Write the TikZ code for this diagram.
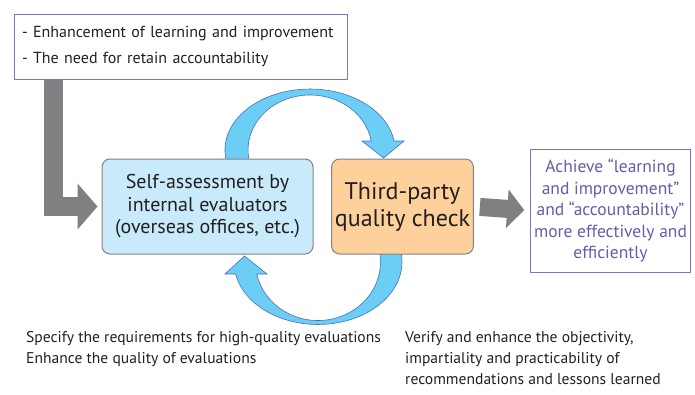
\documentclass[tikz,border=0pt]{standalone}
\usepackage{fontspec}
\setmainfont{PT Sans}
\usetikzlibrary{arrows.meta}

\definecolor{frameviolet}{RGB}{130,115,190}
\definecolor{textviolet}{RGB}{105,90,170}
\definecolor{arrowgray}{RGB}{128,128,130}
\definecolor{selfblue}{RGB}{200,234,250}
\definecolor{thirdorange}{RGB}{253,208,156}
\definecolor{loopblue}{RGB}{108,206,245}
\definecolor{loopedge}{RGB}{70,110,190}
\definecolor{boxedge}{RGB}{130,130,130}
\definecolor{inktext}{RGB}{35,31,32}

\tikzset{
  framebox/.style={draw=frameviolet, line width=1pt},
  stagebox/.style={draw=boxedge, line width=1pt, rounded corners=8pt, align=center, text=inktext},
  grayarrow/.style={arrowgray, line join=miter},
  loopband/.style={fill=loopblue, draw=loopedge, line width=0.6pt},
  note/.style={anchor=north west, inner sep=0pt, align=left, text=inktext, font=\fontsize{15.6}{21}\selectfont}
}

\begin{document}
\begin{tikzpicture}[x=1pt,y=-1pt]
\useasboundingbox (0,0) rectangle (695,394);

% aims box
\node[framebox, minimum width=333pt, minimum height=65pt, inner sep=8pt, text width=317pt, align=left, text=inktext, font=\fontsize{16}{26}\selectfont] (aims) at (180.5,46.5) {- Enhancement of learning and improvement\\- The need for retain accountability};

% loops between the two stages
\filldraw[loopband] (227.9,165.8) arc[start angle=165, end angle=351.5, x radius=85, y radius=61] -- (404,141) -- (383.5,158) -- (362,141) -- (371.2,141) arc[start angle=350.6, end angle=165, x radius=62, y radius=55] -- cycle;
\filldraw[loopband] (399.1,245.8) arc[start angle=-15, end angle=168.93, x radius=84, y radius=62.5] -- (225,274) -- (244.5,256) -- (267,274) -- (256.8,274) arc[start angle=168.16, end angle=-15, x radius=62.5, y radius=58.5] -- cycle;

% stages
\node[stagebox, fill=selfblue, minimum width=211pt, minimum height=95pt, font=\fontsize{20}{22.5}\selectfont] (self) at (207.5,206.5) {Self-assessment by\\internal evaluators\\(overseas offices, etc.)};
\node[stagebox, fill=thirdorange, minimum width=137pt, minimum height=95pt, font=\fontsize{24}{27}\selectfont] (third) at (402.5,206.5) {Third-party\\quality check};

% result
\node[framebox, minimum width=159pt, minimum height=123pt, align=center, text=textviolet, font=\fontsize{17.5}{21.5}\selectfont] (result) at (610.5,210.5) {Achieve “learning\\and improvement”\\and “accountability”\\more effectively and\\efficiently};

% gray arrows
\draw[grayarrow, line width=19pt, -{Triangle[length=20pt, width=45pt]}, shorten >=4pt] (aims.south -| 53,0) |- (self.west);
\draw[grayarrow, line width=18pt, -{Triangle[length=17pt, width=38pt]}, shorten <=6pt, shorten >=6pt] (third.east) -- (result.west);

% notes
\node[note] (selfnote) at (26,331) {Specify the requirements for high-quality evaluations\\Enhance the quality of evaluations};
\node[note] (thirdnote) at (405,331) {Verify and enhance the objectivity,\\impartiality and practicability of\\recommendations and lessons learned};
\end{tikzpicture}
\end{document}
